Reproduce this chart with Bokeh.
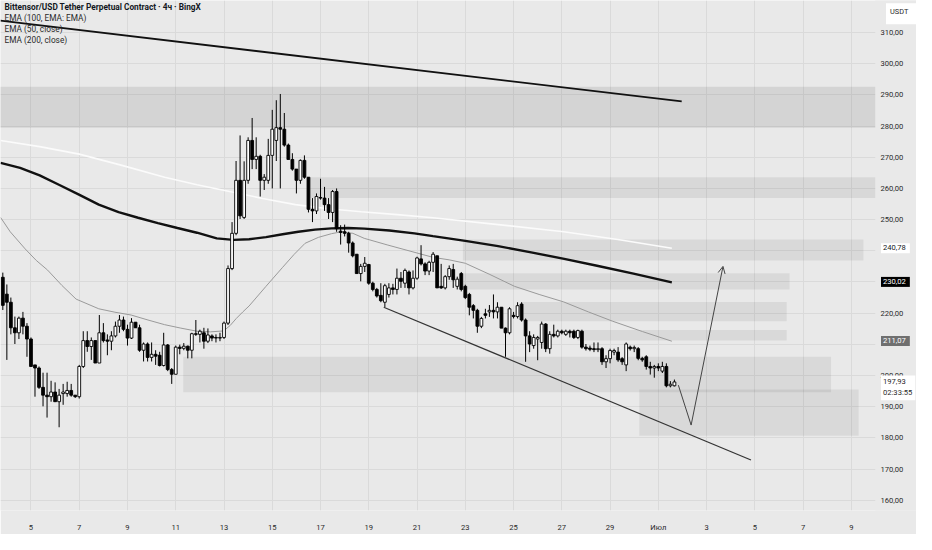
from bokeh.plotting import figure
from bokeh.models import FixedTicker, Label, Arrow, OpenHead, ColumnDataSource, Range1d
from bokeh.embed import file_html
from bokeh.resources import INLINE

# ---------------- data (4h candles, price in USDT) ----------------
# each tuple: (open, high, low, close)
bars_jun03_jun13 = [
    (231.5, 233.0, 221.0, 222.5), (226.1, 229.2, 205.0, 223.5), (223.5, 225.0, 213.2, 215.3),
    (215.3, 218.9, 210.1, 213.7), (213.7, 218.9, 211.7, 218.4), (218.4, 220.4, 213.2, 215.8),
    (215.8, 216.8, 206.0, 211.7), (211.7, 212.2, 202.9, 202.9), (203.4, 203.4, 193.2, 202.4),
    (202.4, 202.9, 195.7, 196.2), (196.2, 200.9, 190.1, 193.7), (193.7, 200.9, 186.5, 193.2),
    (193.2, 198.3, 191.6, 194.7), (194.7, 197.8, 191.6, 191.6), (191.6, 195.7, 183.4, 193.7),
    (194.2, 197.3, 190.6, 194.7), (194.2, 198.0, 193.2, 195.2), (195.2, 197.3, 193.2, 193.7),
    (193.7, 193.7, 192.8, 193.2), (193.2, 203.4, 192.6, 202.9), (202.9, 214.2, 202.4, 211.2),
    (211.2, 214.2, 207.6, 209.3), (209.3, 212.2, 205.0, 211.2), (211.2, 211.2, 204.0, 204.0),
    (204.0, 219.4, 204.0, 213.7), (213.7, 216.8, 210.6, 211.2), (211.4, 213.2, 206.5, 211.0),
    (211.0, 214.2, 208.1, 212.7), (212.7, 217.3, 212.2, 215.8), (215.8, 219.4, 213.7, 217.8),
    (217.8, 218.9, 214.2, 214.8), (214.8, 216.3, 209.6, 212.0), (212.0, 218.4, 211.7, 217.1),
    (217.1, 217.1, 215.3, 215.3), (215.3, 216.3, 207.6, 208.1), (208.1, 210.6, 204.5, 210.1),
    (210.1, 210.6, 204.5, 205.8), (205.8, 210.6, 204.5, 206.8), (206.8, 208.1, 203.4, 206.2),
    (206.5, 207.6, 202.9, 203.2), (203.2, 213.7, 202.9, 209.8), (209.8, 210.1, 201.4, 201.9),
    (201.9, 202.4, 197.3, 200.4), (200.4, 209.6, 200.4, 209.1), (209.1, 209.9, 206.8, 208.7),
    (208.7, 210.4, 208.1, 209.4), (209.4, 209.6, 205.5, 208.1), (208.1, 213.7, 205.5, 213.4),
    (213.4, 217.8, 212.7, 213.2), (213.2, 214.7, 210.6, 214.2), (213.7, 215.3, 208.6, 211.0),
    (211.0, 215.1, 210.4, 213.0), (212.7, 213.2, 211.0, 212.0), (212.2, 213.2, 210.6, 212.0),
    (212.0, 213.7, 211.0, 212.2), (212.2, 217.3, 211.7, 216.8),
]
bars_jun13_jun17 = [
    (216.8, 235.3, 216.2, 234.3), (234.3, 249.2, 233.8, 245.6), (245.6, 268.8, 245.0, 262.6),
    (262.6, 277.0, 250.2, 251.2), (250.7, 268.7, 250.2, 262.6), (262.6, 276.4, 261.5, 275.4),
    (275.4, 282.6, 266.2, 269.3), (269.3, 276.4, 266.2, 270.3), (270.3, 270.8, 257.4, 262.6),
    (262.6, 264.6, 259.5, 263.6), (262.6, 275.9, 261.5, 270.6), (270.6, 285.2, 260.0, 279.0),
    (275.4, 288.3, 268.8, 279.5), (279.5, 290.3, 260.0, 279.0), (279.0, 284.2, 273.4, 273.9),
    (273.9, 274.4, 269.3, 269.3), (269.3, 271.3, 265.7, 266.2), (266.2, 266.2, 258.4, 262.6),
    (262.6, 269.3, 261.5, 269.0), (269.0, 270.6, 263.1, 263.6), (263.6, 263.6, 252.3, 253.3),
    (253.3, 256.9, 249.2, 252.8), (252.8, 258.4, 251.8, 257.4), (257.1, 263.1, 256.4, 256.9),
    (256.9, 260.5, 252.8, 254.8), (254.8, 256.9, 250.2, 252.3), (252.3, 259.5, 249.2, 259.0),
]
bars_jun17_jun24 = [
    (259.0, 260.0, 246.1, 247.1), (246.3, 248.2, 242.0, 245.9), (246.1, 248.4, 244.6, 245.6),
    (245.6, 246.1, 239.4, 242.5), (242.5, 243.0, 237.9, 238.4), (238.9, 238.9, 232.7, 232.7),
    (232.7, 235.8, 230.2, 235.0), (235.0, 238.0, 233.2, 236.0), (235.6, 235.8, 229.1, 229.6),
    (229.6, 230.1, 227.0, 227.6), (227.6, 228.1, 225.0, 225.5), (225.7, 229.6, 223.5, 224.0),
    (223.5, 229.4, 221.9, 228.8), (226.0, 229.6, 225.0, 228.1), (228.1, 229.4, 226.0, 227.6),
    (227.6, 234.3, 226.0, 231.2), (231.2, 233.2, 228.1, 230.2), (229.6, 234.3, 228.1, 233.7),
    (233.2, 233.7, 226.0, 228.1), (228.1, 233.7, 227.6, 231.2), (231.2, 238.1, 230.7, 237.7),
    (237.4, 241.8, 235.3, 235.8), (235.8, 236.3, 232.2, 233.5), (233.5, 236.8, 232.2, 236.3),
    (236.3, 239.6, 233.2, 238.9), (238.4, 238.4, 228.1, 228.1), (228.6, 235.8, 227.8, 228.1),
    (228.1, 232.2, 227.6, 231.7), (231.7, 235.3, 230.7, 234.3), (234.0, 235.8, 228.1, 230.7),
    (228.6, 231.7, 227.6, 230.9), (232.7, 233.2, 227.0, 227.6), (228.6, 229.1, 224.5, 225.0),
    (226.0, 226.5, 219.3, 221.9), (222.4, 222.9, 218.3, 220.9), (220.9, 221.4, 213.7, 215.8),
    (215.8, 218.8, 215.2, 218.3), (219.8, 221.4, 218.3, 219.3), (220.4, 222.6, 218.8, 220.9),
    (220.9, 226.0, 218.3, 220.4), (220.4, 223.5, 218.3, 221.9), (221.9, 221.9, 215.2, 215.2),
]
bars_jun24_jul01 = [
    (215.2, 215.4, 206.0, 213.7), (213.7, 221.9, 213.2, 221.4), (219.3, 220.4, 218.3, 218.9),
    (218.9, 223.5, 218.3, 222.4), (222.9, 223.5, 217.3, 217.8), (217.8, 218.3, 204.4, 212.7),
    (212.7, 214.2, 207.5, 210.1), (209.6, 213.2, 208.6, 212.2), (211.7, 212.7, 204.9, 212.2),
    (210.6, 217.3, 208.6, 216.5), (216.5, 216.8, 207.5, 208.6), (208.6, 214.2, 207.0, 213.2),
    (213.2, 216.3, 212.2, 212.7), (212.7, 214.7, 212.2, 214.2), (214.2, 214.7, 213.2, 213.7),
    (213.2, 214.7, 212.7, 214.2), (214.2, 214.7, 212.2, 213.7), (214.2, 214.7, 211.7, 212.2),
    (212.2, 214.7, 211.7, 214.4), (214.2, 214.7, 208.6, 209.1), (209.1, 210.1, 208.0, 208.6),
    (208.8, 209.6, 207.8, 208.4), (208.6, 210.6, 207.5, 208.3), (208.3, 210.6, 207.5, 208.6),
    (208.6, 209.1, 203.4, 204.4), (204.4, 206.5, 202.4, 205.4), (205.4, 208.6, 203.9, 208.0),
    (207.5, 208.6, 206.5, 208.0), (207.5, 209.1, 204.4, 205.0), (205.4, 205.9, 203.4, 204.4),
    (203.4, 210.6, 201.4, 210.1), (209.1, 209.6, 208.0, 208.6), (208.6, 209.6, 207.5, 209.0),
    (208.6, 209.1, 204.9, 205.5), (205.5, 206.0, 204.4, 205.0), (206.0, 206.5, 201.9, 202.9),
    (202.9, 204.4, 200.3, 202.4), (202.4, 203.4, 199.3, 202.9), (202.9, 203.9, 201.4, 202.4),
    (201.4, 204.4, 200.8, 202.9), (202.9, 203.9, 196.2, 196.7), (196.7, 198.2, 196.2, 197.2),
    (196.7, 198.7, 196.5, 197.93),
]

# time axis: day number counted in June (Jul 1 = 31); last bar opens Jul 1 16:00
LAST_BAR_DAY = 31 + 16 / 24
BAR_DAYS = 4 / 24

# EMA readings (day, value)
ema200_days = [3.74, 4.55, 5.36, 6.18, 6.99, 7.81, 8.63, 9.44, 10.26, 11.07, 11.88, 12.70, 13.39, 14.04,
               14.74, 15.43, 16.08, 16.77, 17.46, 18.14, 18.81, 19.85, 20.89, 21.66, 23.0, 24.36, 25.73,
               27.10, 28.46, 29.97, 31.56]
ema200_vals = [268.2, 266.6, 264.2, 261.1, 258.0, 254.8, 252.4, 250.6, 248.9, 247.3, 245.8, 244.0, 243.5, 243.7,
               244.4, 245.3, 246.1, 246.8, 247.2, 247.3, 247.1, 246.5, 245.6, 244.7, 243.2, 241.5, 239.5,
               237.4, 235.2, 232.7, 229.85]
ema100_days = [3.74, 5.36, 7.0, 8.77, 10.54, 11.88, 13.23, 14.60, 15.96, 17.32, 18.69, 20.18, 21.66, 24.37,
               27.08, 29.32, 31.56]
ema100_vals = [275.4, 273.4, 271.0, 267.4, 263.6, 261.2, 259.0, 256.8, 254.8, 253.5, 252.5, 251.6, 250.6, 248.4,
               246.1, 243.6, 240.8]
ema50_days = [3.74, 4.14, 4.76, 5.22, 5.69, 6.28, 6.87, 7.81, 8.48, 9.15, 9.85, 10.54, 11.21, 11.88, 12.44,
              12.98, 13.25, 13.51, 13.78, 14.04, 14.74, 15.43, 15.90, 16.36, 16.91, 17.46, 17.87, 18.34, 18.81,
              19.76, 20.71, 21.66, 22.33, 23.0, 24.02, 25.04, 26.06, 27.08, 28.10, 29.11, 30.34, 31.56]
ema50_vals = [250.7, 246.1, 240.6, 236.9, 233.8, 228.9, 224.5, 221.4, 220.3, 219.4, 217.8, 216.3, 215.2, 214.2,
              214.0, 214.3, 216.0, 218.3, 220.4, 222.3, 228.6, 234.7, 238.8, 242.4, 244.3, 245.5, 246.1, 245.6,
              244.0, 241.9, 239.9, 237.9, 237.1, 236.0, 232.4, 228.6, 226.0, 223.6, 220.4, 217.4, 214.1, 211.0]

# drawn trendlines / projection (day, price)
top_trend_days = [3.735, 31.97]
top_trend_prices = [313.8, 287.9]
low_trend_days = [19.62, 34.84]
low_trend_prices = [221.9, 172.9]
proj_days = [31.83, 32.36, 33.68]
proj_prices = [196.9, 184.1, 235.0]

# shaded zones
zone_left = [3.0, 16.49, 22.9, 22.88, 25.33, 27.65, 11.31, 30.21]
zone_right = [41.0, 41.0, 39.5, 36.44, 36.32, 36.32, 38.16, 39.3]
zone_top = [292.6, 263.6, 243.6, 232.8, 223.6, 214.6, 206.0, 195.5]
zone_bottom = [279.5, 256.9, 236.9, 227.6, 217.4, 211.2, 194.6, 180.7]
zone_alpha = [0.085, 0.07, 0.065, 0.065, 0.065, 0.065, 0.065, 0.065]

# axes
price_ticks = [160, 170, 180, 190, 200, 210, 220, 230, 240, 250, 260, 270, 280, 290, 300, 310]
price_tick_labels = {t: f"{t},00" for t in price_ticks}
price_ticks_shown = [t for t in price_ticks if t not in (210, 230, 240)]
date_ticks = [5, 7, 9, 11, 13, 15, 17, 19, 21, 23, 25, 27, 29, 31, 33, 35, 37, 39]
date_tick_labels = {5: "5", 7: "7", 9: "9", 11: "11", 13: "13", 15: "15", 17: "17", 19: "19", 21: "21",
                    23: "23", 25: "25", 27: "27", 29: "29", 31: "Июл", 33: "3", 35: "5", 37: "7", 39: "9"}
PRICE_SCALE_START = 39.99   # day where the price scale strip begins

# axis price tags: text, price, background, text colour
price_tags = [("240,78", 240.78, "#ffffff", "#131722"),
              ("230,02", 230.02, "#000000", "#ffffff"),
              ("211,07", 211.07, "#6f6f6f", "#ffffff")]
last_price_text = "197,93"
last_price = 197.93
countdown_text = "02:33:55"
unit_text = "USDT"

title_text = "Bittensor/USD Tether Perpetual Contract · 4ч · BingX"
legend_texts = ["EMA (100, EMA: EMA)", "EMA (50, close)", "EMA (200, close)"]

# ---------------- build ----------------
ohlc = bars_jun03_jun13 + bars_jun13_jun17 + bars_jun17_jun24 + bars_jun24_jul01
N = len(ohlc)
days = [LAST_BAR_DAY - (N - 1 - i) * BAR_DAYS for i in range(N)]
opens = [b[0] for b in ohlc]
highs = [max(b) for b in ohlc]
lows = [min(b) for b in ohlc]
closes = [b[3] for b in ohlc]

W, H = 916, 534
BB = 19
FW, FH = W, H - BB
X0, X1 = 3.737, 41.70
Y0, Y1 = 156.7, 320.28
PX_PER_USD = FH / (Y1 - Y0)

BG = "#e9e9e9"
p = figure(width=W, height=H, x_range=Range1d(X0, X1), y_range=Range1d(Y0, Y1),
           output_backend="svg", toolbar_location=None, y_axis_location="right",
           min_border_left=0, min_border_top=0, min_border_right=0, min_border_bottom=BB)
p.background_fill_color = BG
p.border_fill_color = BG
p.outline_line_color = None

FONT = "Roboto"
LABEL_X = 880.5          # left edge of price-scale texts (px from the left of the chart)

yax = p.yaxis[0]
yax.ticker = FixedTicker(ticks=price_ticks_shown)
yax.major_label_overrides = {t: price_tick_labels[t] for t in price_ticks_shown}
yax.axis_line_color = None
yax.major_tick_line_color = None
yax.minor_tick_line_color = None
yax.major_tick_out = 0
yax.major_tick_in = 0
yax.major_label_standoff = int(round(LABEL_X - FW))
yax.major_label_text_font = FONT
yax.major_label_text_font_size = "7.6px"
yax.major_label_text_color = "#2a2a2a"

xax = p.xaxis[0]
xax.ticker = FixedTicker(ticks=date_ticks)
xax.major_label_overrides = date_tick_labels
xax.axis_line_color = None
xax.major_tick_line_color = None
xax.minor_tick_line_color = None
xax.major_label_standoff = 6
xax.major_label_text_font = FONT
xax.major_label_text_font_size = "7.6px"
xax.major_label_text_color = "#2a2a2a"

p.ygrid.ticker = FixedTicker(ticks=price_ticks)
p.xgrid.grid_line_color = "#dadada"
p.ygrid.grid_line_color = "#dadada"

# zones
p.quad(left=zone_left, right=zone_right, top=zone_top, bottom=zone_bottom,
       fill_color="#000000", fill_alpha=zone_alpha, line_color=None)

# price-scale strip (covers grid and zones at the right, like the chart's scale area)
p.quad(left=[PRICE_SCALE_START], right=[X1 + 5], top=[Y1 + 20], bottom=[Y0 - 20],
       fill_color=BG, line_color=None)

# EMAs
p.line(ema100_days, ema100_vals, line_color="#fbfbfb", line_width=1.6)
p.line(ema50_days, ema50_vals, line_color="#9a9a9a", line_width=1)
p.line(ema200_days, ema200_vals, line_color="#111111", line_width=2.4)

# candles
src = ColumnDataSource(dict(x=days, h=highs, l=lows,
                            top=[max(o, c) for o, c in zip(opens, closes)],
                            bot=[min(o, c) for o, c in zip(opens, closes)],
                            fill=["#ffffff" if c >= o else "#000000" for o, c in zip(opens, closes)]))
p.segment(x0="x", y0="h", x1="x", y1="l", source=src, line_color="#000000", line_width=1)
p.vbar(x="x", top="top", bottom="bot", width=BAR_DAYS * 0.7, source=src,
       fill_color="fill", line_color="#000000", line_width=0.9)

# trendlines
p.line(top_trend_days, top_trend_prices, line_color="#111111", line_width=1.8)
p.line(low_trend_days, low_trend_prices, line_color="#333333", line_width=1.2)

# projection path with arrow
p.line(proj_days[:2], proj_prices[:2], line_color="#444444", line_width=1)
p.add_layout(Arrow(end=OpenHead(size=7, line_color="#444444", line_width=1),
                   x_start=proj_days[1], y_start=proj_prices[1],
                   x_end=proj_days[2], y_end=proj_prices[2],
                   line_color="#444444", line_width=1))

# header texts
p.add_layout(Label(x=4, y=FH - 11, x_units="screen", y_units="screen", text=title_text,
                   text_font=FONT, text_font_size="8.3px", text_font_style="bold",
                   text_color="#131722", text_baseline="middle"))
for i, t in enumerate(legend_texts):
    p.add_layout(Label(x=4, y=FH - 22.5 - i * 11.2, x_units="screen", y_units="screen", text=t,
                       text_font=FONT, text_font_size="8.3px", text_color="#2a2a2a",
                       text_baseline="middle"))

# price-scale tags
for txt, price, bg, fg in price_tags:
    p.add_layout(Label(x=LABEL_X, y=price, x_units="screen", y_units="data", text=txt,
                       text_font=FONT, text_font_size="7.6px", text_color=fg, text_baseline="middle",
                       background_fill_color=bg, padding=(2, 4, 2, 3)))
p.add_layout(Label(x=LABEL_X, y=last_price - 6 / PX_PER_USD, x_units="screen", y_units="data",
                   text=last_price_text + "\n" + countdown_text,
                   text_font=FONT, text_font_size="7.6px", text_color="#2a2a2a", text_baseline="middle",
                   background_fill_color="#ffffff", padding=(2, 3, 2, 3)))
p.add_layout(Label(x=LABEL_X + 5, y=Y1 - 13.5 / PX_PER_USD, x_units="screen", y_units="data", text=unit_text,
                   text_font=FONT, text_font_size="7.4px", text_color="#2a2a2a", text_baseline="middle",
                   background_fill_color="#ffffff", padding=(4, 8, 4, 8)))

open("out.html", "w").write(file_html(p, INLINE))
